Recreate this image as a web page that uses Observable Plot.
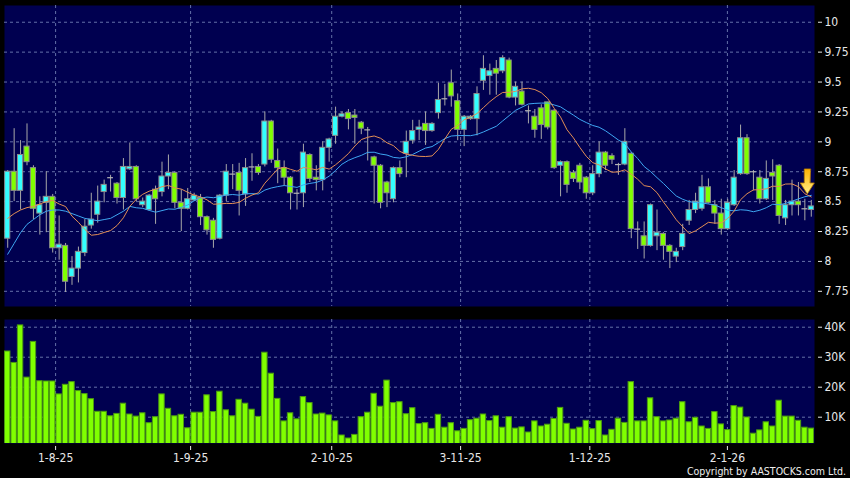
<!DOCTYPE html>
<html><head><meta charset="utf-8">
<script src="https://cdn.jsdelivr.net/npm/d3@7"></script>
<script src="https://cdn.jsdelivr.net/npm/@observablehq/plot@0.6"></script>
<style>
html,body{margin:0;padding:0;background:#000;}
#wrap{position:relative;width:850px;height:478px;overflow:hidden;background:#000;}
#wrap svg{display:block;}
#copy{position:absolute;right:4px;top:465px;line-height:12px;color:#eee;font-family:"DejaVu Sans Condensed","DejaVu Sans",sans-serif;font-stretch:condensed;font-size:10.5px;white-space:nowrap;}
</style></head><body><div id="wrap"></div>
<script>
// ---- data ----
const open = [8.19,8.75,8.59,8.96,8.78,8.40,8.49,8.54,8.11,8.13,
7.87,7.94,8.07,8.30,8.39,8.58,8.70,8.65,8.53,8.77,
8.79,8.47,8.43,8.60,8.58,8.71,8.74,8.49,8.44,8.51,
8.53,8.37,8.34,8.19,8.55,8.73,8.74,8.56,8.79,8.79,
8.81,9.17,8.84,8.78,8.70,8.57,8.57,8.89,8.70,8.68,
8.95,9.05,9.21,9.24,9.22,9.16,9.10,8.87,8.80,8.66,
8.52,8.78,8.90,9.01,9.10,9.15,9.09,9.24,9.36,9.49,
9.34,9.10,9.19,9.19,9.51,9.55,9.61,9.59,9.68,9.37,
9.42,9.26,9.21,9.28,9.33,9.26,8.80,8.83,8.74,8.80,
8.70,8.57,8.73,8.91,8.88,8.81,8.81,8.90,8.27,8.21,
8.13,8.21,8.23,8.13,8.04,8.12,8.34,8.43,8.44,8.62,
8.47,8.40,8.27,8.47,8.73,9.03,8.75,8.70,8.52,8.74,
8.80,8.36,8.47,8.50,8.44,8.43];
const close = [8.75,8.59,8.89,8.83,8.44,8.47,8.54,8.11,8.14,7.83,
7.94,8.08,8.29,8.35,8.50,8.64,8.70,8.53,8.79,8.79,
8.52,8.50,8.55,8.52,8.71,8.74,8.49,8.44,8.52,8.55,
8.37,8.26,8.18,8.55,8.75,8.73,8.59,8.78,8.79,8.74,
9.17,8.85,8.78,8.70,8.57,8.57,8.91,8.69,8.68,8.95,
9.02,9.21,9.23,9.19,9.20,9.11,9.10,8.80,8.49,8.57,
8.78,8.73,9.00,9.09,9.12,9.09,9.15,9.35,9.36,9.38,
9.10,9.21,9.21,9.40,9.61,9.59,9.57,9.70,9.37,9.46,
9.31,9.26,9.10,9.14,9.12,8.78,8.83,8.64,8.69,8.66,
8.57,8.73,8.91,8.80,8.85,8.81,9.00,8.27,8.27,8.13,
8.47,8.24,8.13,8.08,8.08,8.23,8.43,8.50,8.62,8.49,
8.40,8.27,8.49,8.70,9.03,8.73,8.75,8.52,8.69,8.71,
8.38,8.47,8.50,8.47,8.44,8.46];
const high = [8.76,9.11,9.01,9.15,8.80,8.54,8.75,8.56,8.38,8.15,
8.04,8.12,8.35,8.57,8.63,8.68,8.72,8.66,8.86,8.99,
8.80,8.53,8.56,8.63,8.83,8.89,8.75,8.60,8.61,8.57,
8.56,8.38,8.36,8.56,8.81,8.81,8.82,8.86,8.90,8.81,
9.25,9.18,8.94,8.84,8.71,8.60,8.98,8.90,8.80,9.00,
9.03,9.29,9.25,9.27,9.27,9.17,9.12,8.88,8.81,8.67,
8.79,8.84,9.09,9.18,9.18,9.25,9.16,9.49,9.48,9.60,
9.40,9.22,9.22,9.46,9.72,9.65,9.68,9.72,9.70,9.50,
9.50,9.30,9.27,9.31,9.33,9.27,8.84,8.84,8.76,8.82,
8.71,8.80,9.00,8.92,8.90,8.82,9.11,8.91,8.33,8.33,
8.48,8.43,8.24,8.14,8.11,8.31,8.51,8.57,8.72,8.69,
8.51,8.52,8.52,8.76,9.14,9.06,8.76,8.76,8.84,8.85,
8.81,8.51,8.68,8.66,8.52,8.51];
const low = [8.11,8.50,8.43,8.80,8.35,8.22,8.24,8.07,8.01,7.74,
7.80,7.82,8.04,8.27,8.32,8.49,8.58,8.48,8.43,8.76,
8.50,8.45,8.42,8.31,8.54,8.60,8.44,8.25,8.43,8.50,
8.30,8.22,8.11,8.18,8.50,8.60,8.38,8.46,8.67,8.72,
8.79,8.82,8.65,8.63,8.43,8.43,8.45,8.66,8.59,8.59,
8.83,8.98,9.20,9.10,8.98,9.06,8.84,8.48,8.44,8.45,
8.49,8.70,8.70,8.98,9.01,8.97,9.08,9.19,9.30,9.29,
9.01,8.96,9.18,9.05,9.43,9.39,9.39,9.57,9.36,9.30,
9.30,9.15,9.03,9.02,9.10,8.77,8.54,8.57,8.66,8.60,
8.52,8.55,8.70,8.76,8.81,8.72,8.80,8.19,8.10,8.02,
8.12,8.09,8.01,7.94,7.99,8.09,8.30,8.40,8.42,8.48,
8.31,8.22,8.26,8.46,8.72,8.72,8.59,8.48,8.51,8.51,
8.31,8.30,8.38,8.38,8.34,8.37];
const volume = [31900,28100,40600,23200,35100,22000,21900,21900,17600,20800,
21700,18700,17700,16000,11800,11800,10300,11100,14500,10900,
10200,11300,8000,10000,17600,12800,10300,10800,6300,11500,
11500,17300,11700,18500,12300,10300,15800,14500,12500,10100,
31500,24500,16100,8600,11300,9300,16700,14700,10900,11200,
10600,8600,3900,2900,4100,10000,11500,17800,13500,22200,
14700,15000,11000,13000,7700,8000,6100,10800,6500,8000,
5300,6100,9000,9500,10900,8700,10300,6500,10000,6200,
6600,4900,8600,6900,7500,9400,13100,7800,5900,6500,
8800,6000,8700,3900,5800,9500,8100,21700,8600,8600,
16300,10000,8600,8900,9500,15000,8300,9800,6900,6100,
11700,7600,5700,13700,13200,9900,4500,5600,8300,6900,
15500,10200,10200,8800,6500,6200];
const ma10Lead = [8.36,8.40,8.43,8.45,8.46,8.48,8.50,8.51,8.48];
const ma20Lead = [8.06,8.15,8.24,8.31,8.35,8.39,8.42,8.43,8.43,8.42,8.40,8.38,8.36,8.35,8.34,8.35,8.36,8.39,8.42];
// date ticks (position in trading-day index) and labels
const dateTickPos = [7.45,28.45,50.4,70.45,90.55,111.95];
const dateTickLabels = ["1-8-25","1-9-25","2-10-25","3-11-25","1-12-25","2-1-26"];
const priceTicks = [7.75,8,8.25,8.5,8.75,9,9.25,9.5,9.75,10];
const volTicks = [10000,20000,30000,40000];
const volTickLabels = ["10K","20K","30K","40K"];

// ---- build ----
const bars = close.map((c,i)=>({i, open:open[i], high:high[i], low:low[i], close:c, vol:volume[i]}));
const ma10 = close.map((c,i)=> i>=9 ? d3.mean(close.slice(i-9,i+1)) : ma10Lead[i]);
const ma20 = close.map((c,i)=> i>=19 ? d3.mean(close.slice(i-19,i+1)) : ma20Lead[i]);
const maRows = close.map((c,i)=>({i, ma10:ma10[i], ma20:ma20[i]}));

const FONT = '"DejaVu Sans Condensed","DejaVu Sans",sans-serif';
const NAVY = "#000050";
const GRID = "#6470a8";
const UP = "#33ffff", DOWN = "#80ff00";

const blockArrow = {draw(ctx, l) {
  const hw = 3, hh = 7, hl = 11;
  ctx.moveTo(-hw, 0); ctx.lineTo(hw, 0); ctx.lineTo(hw, -(l-hl)); ctx.lineTo(hh, -(l-hl));
  ctx.lineTo(0, -l); ctx.lineTo(-hh, -(l-hl)); ctx.lineTo(-hw, -(l-hl)); ctx.closePath();
}};

const xDomain = [-0.5, 125.5];
const common = {width:850, marginLeft:4, marginRight:36,
  style:{background:"#000", color:"#e8e8e8", fontFamily:FONT, fontSize:"12px", fontStretch:"condensed"}};

const price = Plot.plot({
  ...common, height:312, marginTop:5, marginBottom:6,
  x:{type:"linear", domain:xDomain, axis:null},
  y:{domain:[7.623,10.14], axis:null},
  color:{type:"identity"},
  marks:[
    Plot.frame({fill:NAVY, stroke:null}),
    Plot.gridY(priceTicks, {stroke:GRID, strokeOpacity:1, strokeDasharray:"3,3"}),
    Plot.gridX(dateTickPos, {stroke:GRID, strokeOpacity:1, strokeDasharray:"3,3"}),
    Plot.axisY(priceTicks, {anchor:"right", label:null, tickSize:4, dx:3, tickPadding:3, tickFormat:d=>String(d), fontSize:12}),
    Plot.ruleX(bars, {x:"i", y1:"low", y2:"high", stroke:"#a8a8a8", strokeWidth:1}),
    Plot.rect(bars.filter(d=>d.open!==d.close), {x1:d=>d.i-0.4, x2:d=>d.i+0.4, y1:"open", y2:"close",
      fill:d=>d.close>d.open?UP:DOWN, stroke:"#8c8c8c", strokeWidth:1}),
    Plot.ruleY(bars.filter(d=>d.open===d.close), {y:"close", x1:d=>d.i-0.45, x2:d=>d.i+0.45, stroke:"#b4b4b4", strokeWidth:1.2}),
    Plot.lineY(maRows, {x:"i", y:"ma20", stroke:"#3ea6f2", strokeWidth:1}),
    Plot.lineY(maRows, {x:"i", y:"ma10", stroke:"#e28e55", strokeWidth:1}),
    Plot.vector([maRows[maRows.length-1]], {x:"i", y:"ma10", length:25, rotate:180, anchor:"end",
      shape:blockArrow, fill:"#ffcc22", stroke:"#b87c00", strokeWidth:0.8, dx:-4, dy:-3})
  ]
});

// gradient on the arrow
const defs = d3.select(price).insert("defs", ":first-child");
const g = defs.append("linearGradient").attr("id","arrowGrad").attr("x1",0).attr("y1",0).attr("x2",0).attr("y2",1);
g.append("stop").attr("offset","0%").attr("stop-color","#fff08a");
g.append("stop").attr("offset","100%").attr("stop-color","#ffb000");
d3.select(price).selectAll('g[aria-label="vector"] path').attr("fill","url(#arrowGrad)");

const vol = Plot.plot({
  ...common, height:166, marginTop:7, marginBottom:35,
  x:{type:"linear", domain:xDomain, axis:null},
  y:{domain:[1230,42570], axis:null},
  marks:[
    Plot.frame({fill:NAVY, stroke:null}),
    Plot.gridY(volTicks, {stroke:GRID, strokeOpacity:1, strokeDasharray:"3,3"}),
    Plot.gridX(dateTickPos, {stroke:GRID, strokeOpacity:1, strokeDasharray:"3,3"}),
    Plot.rectY(bars, {x1:d=>d.i-0.42, x2:d=>d.i+0.42, y1:0, y2:"vol", fill:DOWN, stroke:"#4c9c10", strokeWidth:1, clip:true}),
    Plot.axisY(volTicks, {anchor:"right", label:null, tickSize:4, dx:3, tickPadding:3,
      tickFormat:d=>volTickLabels[volTicks.indexOf(d)], fontSize:12}),
    Plot.axisX(dateTickPos, {anchor:"bottom", label:null, tickSize:4, dy:3, tickPadding:3,
      tickFormat:d=>dateTickLabels[dateTickPos.indexOf(d)], fontSize:12})
  ]
});

const wrap = document.getElementById("wrap");
wrap.append(price, vol);
const copy = document.createElement("div");
copy.id = "copy";
copy.textContent = "Copyright by AASTOCKS.com Ltd.";
wrap.append(copy);
</script></body></html>
